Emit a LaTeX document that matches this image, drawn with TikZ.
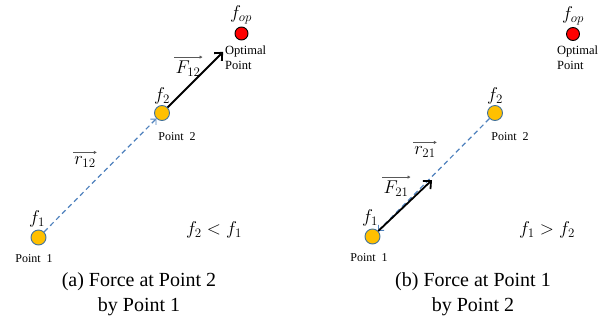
\RequirePackage{fix-cm}
\documentclass[tikz,border=0pt]{standalone}
\usepackage{fontspec}
\setmainfont{Liberation Serif}
\usetikzlibrary{arrows.meta,calc}
\definecolor{dotfill}{HTML}{FFC000}
\definecolor{dotedge}{HTML}{41719C}
\definecolor{dashblue}{HTML}{4F81BD}
\definecolor{vecgray}{HTML}{595959}
\tikzset{
  dotnode/.style={circle,fill=dotfill,draw=dotedge,line width=0.9pt,minimum size=15pt,inner sep=0pt},
  optnode/.style={circle,fill=red,draw=black,line width=0.9pt,minimum size=13pt,inner sep=0pt},
  smalltext/.style={font=\fontsize{12}{13}\selectfont,inner sep=0pt},
  optext/.style={font=\fontsize{12.5}{15}\selectfont,inner sep=0pt,align=left,anchor=north west},
  mathlab/.style={font=\fontsize{18.5}{19}\selectfont,inner sep=0pt},
  captext/.style={font=\fontsize{20}{25}\selectfont,inner sep=0pt,align=center},
  vecarrow/.style={draw=vecgray,line width=0.8pt,-{Latex[length=3pt,width=3.5pt]}},
  dasharrow/.style={draw=dashblue,line width=1.2pt,dash pattern=on 5pt off 3.5pt,-{Straight Barb[length=4pt,width=8pt,line width=0.9pt]}},
  forcearrow/.style={draw=black,line width=1.8pt,-{Straight Barb[length=6pt,width=11pt,line width=1.8pt]}}
}
\begin{document}
\begin{tikzpicture}[x=1pt,y=-1pt]
\useasboundingbox (0,0) rectangle (613,322);
% panel (a)
\node[dotnode] (p1a) at (38.5,237.5) {};
\node[dotnode] (p2a) at (162,113) {};
\node[optnode] (opa) at (241.5,33.5) {};
\node[mathlab] (fopa) at (241,15) {$f_{op}$};
\node[mathlab] (f2a) at (162,96) {$f_2$};
\node[mathlab] (f1a) at (37,219) {$f_1$};
\node[smalltext] (pt2a) at (177,137) {Point\ \ 2};
\node[smalltext] (pt1a) at (34,259) {Point\ \ 1};
\node[optext] (opta) at (225,46) {Optimal\\Point};
\node[mathlab] (r12) at (85,162) {$r_{12}$};
\draw[vecarrow] ([xshift=-1pt,yshift=4pt]r12.north west) -- ([xshift=1pt,yshift=4pt]r12.north east);
\node[mathlab] (F12) at (188,69) {$F_{12}$};
\draw[vecarrow] ([xshift=-1pt,yshift=4pt]F12.north west) -- ([xshift=2pt,yshift=4pt]F12.north east);
\node[mathlab] (ineqa) at (214,230) {$f_2 < f_1$};
\node[captext] (capa) at (139,294) {(a) Force at Point 2\\by Point 1};
\draw[dasharrow] (p1a) -- (p2a);
\draw[forcearrow,shorten >=19pt] (p2a) -- (opa);
% panel (b)
\node[dotnode] (p1b) at (372.5,236.5) {};
\node[dotnode] (p2b) at (495,113) {};
\node[optnode] (opb) at (573,34) {};
\node[mathlab] (fopb) at (573,16) {$f_{op}$};
\node[mathlab] (f2b) at (495,96) {$f_2$};
\node[mathlab] (f1b) at (370,218) {$f_1$};
\node[smalltext] (pt2b) at (510,137) {Point\ \ 2};
\node[smalltext] (pt1b) at (369,258) {Point\ \ 1};
\node[optext] (optb) at (557,46) {Optimal\\Point};
\node[mathlab] (r21) at (425,152) {$r_{21}$};
\draw[vecarrow] ([xshift=-1pt,yshift=4pt]r21.north west) -- ([xshift=1pt,yshift=4pt]r21.north east);
\node[mathlab] (F21) at (396,189) {$F_{21}$};
\draw[vecarrow] ([xshift=-1pt,yshift=4pt]F21.north west) -- ([xshift=2pt,yshift=4pt]F21.north east);
\node[mathlab] (ineqb) at (547,230) {$f_1 > f_2$};
\node[captext] (capb) at (473,294) {(b) Force at Point 1\\by Point 2};
\coordinate (fend) at (432,180);
\draw[dasharrow] (p2b) -- (p1b);
\draw[forcearrow] (p1b) -- (fend);
\end{tikzpicture}
\end{document}
